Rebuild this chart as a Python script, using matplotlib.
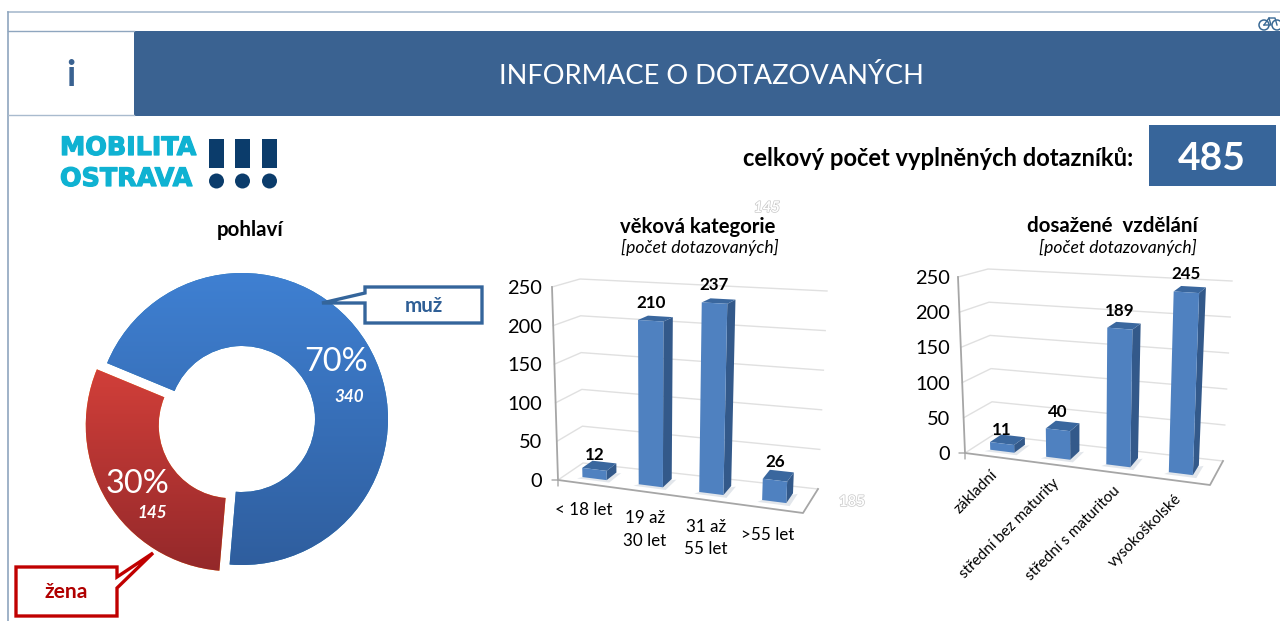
import matplotlib
matplotlib.use("Agg")
import matplotlib.pyplot as plt
import numpy as np
from matplotlib.colors import LinearSegmentedColormap
from matplotlib.patches import Polygon, Rectangle, Circle
import matplotlib.patheffects as pe

plt.rcParams['font.family'] = ['Lato', 'DejaVu Sans']

# ---------- data ----------
gender_labels = ['muž', 'žena']
gender_counts = [340, 145]
total_responses = 485

age_labels = ['< 18 let', '19 až\n30 let', '31 až\n55 let', '>55 let']
age_counts = [12, 210, 237, 26]

edu_labels = ['základní', 'střední bez maturity', 'střední s maturitou', 'vysokoškolské']
edu_counts = [11, 40, 189, 245]

y_ticks = [0, 50, 100, 150, 200, 250]

W, H = 1280, 621
PT = 0.72
fig = plt.figure(figsize=(W / 100, H / 100), dpi=100, facecolor='white')

bg = fig.add_axes([0, 0, 1, 1])
bg.set_xlim(0, W)
bg.set_ylim(H, 0)
bg.axis('off')

NAVY = '#3A6291'
# page frame and header
bg.plot([8, 1280], [12, 12], color='#A9BBCE', lw=1.2)
bg.plot([8, 8], [12, 621], color='#8FA6BF', lw=1.2)
bg.add_patch(Rectangle((134, 31), 1146, 85, fc=NAVY, ec='none'))
bg.plot([8, 134], [31, 31], color='#8FA6BF', lw=1)
bg.plot([8, 134], [115, 115], color='#A9BBCE', lw=1)
bg.text(711, 76, 'INFORMACE O DOTAZOVANÝCH', color='white', fontsize=27.3 * PT, ha='center', va='center')
bg.text(71, 76, 'i', color=NAVY, fontsize=36 * PT, fontweight='bold', ha='center', va='center')

# logo
TEAL = '#0FB2D2'
DARK = '#0B3C6B'
heavy = [pe.withStroke(linewidth=0.9, foreground=TEAL)]
bg.text(60, 148, 'MOBILITA', color=TEAL, fontsize=25.4 * PT, fontweight='bold', family=['DejaVu Sans'],
        va='center', path_effects=heavy)
bg.text(60, 179, 'OSTRAVA', color=TEAL, fontsize=25.4 * PT, fontweight='bold', family=['DejaVu Sans'],
        va='center', path_effects=heavy)
for x in (209, 235, 262):
    bg.add_patch(Rectangle((x, 139), 15, 29, fc=DARK, ec='none'))
    bg.add_patch(Circle((x + 7.5, 181), 7.5, fc=DARK, ec='none'))

# bicycle glyph
bike = '#3A6A95'
for cx_b in (1264, 1277):
    bg.add_patch(Circle((cx_b, 25), 5, fc='none', ec=bike, lw=1.1))
bg.plot([1264, 1269, 1275, 1277], [25, 18, 18, 25], color=bike, lw=1.0)
bg.plot([1269, 1271, 1264], [18, 25, 25], color=bike, lw=1.0)

# total
bg.text(1133, 159, 'celkový počet vyplněných dotazníků:', color='black', fontsize=23.7 * PT,
        fontweight='bold', ha='right', va='center')
bg.add_patch(Rectangle((1149, 125), 127, 61, fc='#37659A', ec='none'))
bg.text(1212, 158, str(total_responses), color='white', fontsize=39 * PT, fontweight='bold', ha='center', va='center')

# ghost artefacts
for (x, y, s) in [(767, 208, '145'), (852, 502, '185')]:
    bg.text(x, y, s, color='white', fontsize=15 * PT, fontweight='bold', ha='center', va='center',
            style='italic' if y < 300 else 'normal',
            path_effects=[pe.withStroke(linewidth=1.0, foreground='#C8C8C8')])

# ---------- donut ----------
bg.text(250, 230, 'pohlaví', color='black', fontsize=20.5 * PT, fontweight='bold', ha='center', va='center')

R = 146.0
half = 185.0
cx, cy = 242.0, 419.0
pax = fig.add_axes([(cx - half) / W, (H - cy - half) / H, 2 * half / W, 2 * half / H])
wedges, _ = pax.pie(gender_counts, startangle=157.5, counterclock=False, explode=[0, 0.082],
                    radius=1, wedgeprops=dict(width=0.5, linewidth=0))
cmaps = [LinearSegmentedColormap.from_list('b', ['#3F80D2', '#2F5E9E']),
         LinearSegmentedColormap.from_list('r', ['#D4403A', '#93282A'])]
ranges = [(1.0, -1.0), (0.4, -1.06)]
grad = np.linspace(0, 1, 256).reshape(-1, 1)
for w, cm, (top, bot) in zip(wedges, cmaps, ranges):
    im = pax.imshow(grad, cmap=cm, extent=[-1.3, 1.3, bot, top], aspect='auto', zorder=2)
    im.set_clip_path(w)
pax.set_xlim(-half / R, half / R)
pax.set_ylim(-half / R, half / R)
pax.axis('off')
pax.patch.set_alpha(0)

top_layer = fig.add_axes([0, 0, 1, 1], facecolor='none')
top_layer.set_xlim(0, W)
top_layer.set_ylim(H, 0)
top_layer.axis('off')
label_pos = [((336, 362), (349, 397)), ((138, 484), (152, 513))]
for n, (p_pct, p_n) in zip(gender_counts, label_pos):
    top_layer.text(*p_pct, f'{round(100 * n / total_responses)}%', color='white', fontsize=32.5 * PT, ha='center', va='center')
    top_layer.text(*p_n, str(n), color='white', fontsize=17 * PT, fontweight='bold', style='italic', ha='center', va='center')

# callouts
muz = [(365, 287), (482, 287), (482, 323), (365, 323), (365, 303), (322, 303), (365, 293)]
zena = [(16, 567), (117, 567), (117, 577), (153, 553), (117, 588), (117, 616), (16, 616)]
top_layer.add_patch(Polygon(muz, closed=True, fc='white', ec='#34659B', lw=2.4, joinstyle='miter'))
top_layer.add_patch(Polygon(zena, closed=True, fc='white', ec='#C00000', lw=2.4, joinstyle='miter'))
top_layer.text(424, 306, gender_labels[0], color='#2F5F96', fontsize=20.5 * PT, fontweight='bold', ha='center', va='center')
top_layer.text(66, 592, gender_labels[1], color='#B00000', fontsize=21 * PT, fontweight='bold', ha='center', va='center')


# ---------- pseudo-3D column charts ----------
def column_chart(values, FL, BL, BR, FR, ylab_pad):
    """Corners are (level 0, level 250) pixel pairs of the plot box."""
    ox, oy = FL[0]
    box_w = FR[0][0] - ox
    box_h = oy - FL[1][1]
    ax = fig.add_axes([ox / W, (H - oy) / H, box_w / W, box_h / H], facecolor='none')
    n = len(values)
    ax.set_xlim(-0.5, n - 0.5)
    ax.set_ylim(0, 250)
    for s in ax.spines.values():
        s.set_visible(False)
    ax.set_xticks([])
    ax.set_yticks(y_ticks)
    ax.tick_params(axis='y', length=0, pad=ylab_pad * PT, labelsize=20 * PT, labelcolor='black')

    def project(cat, v, d):
        f = (cat + 0.5) / n
        t = v / 250.0
        def corner(c):
            return np.array(c[0]) * (1 - t) + np.array(c[1]) * t
        front = corner(FL) * (1 - f) + corner(FR) * f
        back = corner(BL) * (1 - f) + corner(BR) * f
        px = front * (1 - d) + back * d
        return ((px[0] - ox) / box_w * n - 0.5, (oy - px[1]) / box_h * 250)

    grid = '#E0E0E0'
    axis = '#A6A6A6'
    left, right = -0.5, n - 0.5
    for v in y_ticks:
        pts = [project(left, v, 0), project(left, v, 1), project(right, v, 1)]
        ax.plot(*zip(*pts), color=grid, lw=1.0, zorder=1, clip_on=False)
        a = project(left, v, 0)
        ax.annotate('', xy=a, xytext=(-6 * PT, 0), textcoords='offset points',
                    arrowprops=dict(arrowstyle='-', color=axis, lw=1.0, shrinkA=0, shrinkB=0))
    ax.plot(*zip(project(left, 0, 0), project(left, 250, 0)), color=axis, lw=1.3, zorder=2, clip_on=False)
    ax.plot(*zip(project(left, 0, 0), project(right, 0, 0), project(right, 0, 1)), color=axis, lw=1.3, zorder=2, clip_on=False)
    for b in np.arange(n + 1) - 0.5:
        ax.annotate('', xy=project(b, 0, 0), xytext=(0, -6 * PT), textcoords='offset points',
                    arrowprops=dict(arrowstyle='-', color=axis, lw=1.0, shrinkA=0, shrinkB=0))

    shifts = [-0.02, -0.09, -0.09, -0.05]
    gaps = [14, 18, 18, 18]
    hw, d0, d1 = 0.2, 0.3, 0.72
    for i, v in enumerate(values):
        c = i + shifts[i]
        l, r = c - hw, c + hw
        ax.add_patch(Polygon([project(l - 0.05, 0, d0 - 0.1), project(r + 0.08, 0, d0 - 0.1),
                              project(r + 0.08, 0, d1), project(l, 0, d0)],
                             fc='#7F8FA6', ec='none', alpha=0.22, zorder=3, clip_on=False))
        ax.add_patch(Polygon([project(r, 0, d0), project(r, 0, d1), project(r, v, d1), project(r, v, d0)],
                             fc='#33598A', ec='none', zorder=4, clip_on=False))
        ax.add_patch(Polygon([project(l, v, d0), project(r, v, d0), project(r, v, d1), project(l, v, d1)],
                             fc='#3A679E', ec='none', zorder=4, clip_on=False))
        ax.add_patch(Polygon([project(l, 0, d0), project(r, 0, d0), project(r, v, d0), project(l, v, d0)],
                             fc='#4F81C0', ec='none', zorder=5, clip_on=False))
        ax.annotate(str(v), xy=project(c, v, d0), xytext=(0, gaps[i] * PT), textcoords='offset points',
                    ha='center', va='center', fontsize=17 * PT, fontweight='bold', color='black',
                    annotation_clip=False, zorder=6)
    return ax, project


ax1, p1 = column_chart(age_counts,
                       FL=[(558, 480), (552, 287)], BL=[(583, 463), (580, 279)],
                       BR=[(818, 489), (827, 291)], FR=[(803, 513), (812, 301)], ylab_pad=16)
for i, lab in enumerate(age_labels):
    ax1.annotate(lab, xy=p1(i, 0, 0), xytext=(-5 * PT, -18 * PT), textcoords='offset points',
                 ha='center', va='top', fontsize=17 * PT, linespacing=1.5, annotation_clip=False)

ax2, p2 = column_chart(edu_counts,
                       FL=[(965, 453), (958, 277)], BL=[(993, 435), (988, 269)],
                       BR=[(1223, 461), (1232, 281)], FR=[(1210, 485), (1217, 295)], ylab_pad=15)
for i, lab in enumerate(edu_labels):
    ax2.annotate(lab, xy=p2(i, 0, 0), xytext=(0, -16 * PT), textcoords='offset points',
                 ha='right', va='center', rotation=45, rotation_mode='anchor',
                 fontsize=15.3 * PT, annotation_clip=False)

# chart titles
bg.text(698, 227, 'věková kategorie', fontsize=20.3 * PT, fontweight='bold', ha='center', va='center')
bg.text(700, 247, '[počet dotazovaných]', fontsize=17.5 * PT, style='italic', ha='center', va='center')
bg.text(1112, 226, 'dosažené  vzdělání', fontsize=20.5 * PT, fontweight='bold', ha='center', va='center')
bg.text(1118, 247, '[počet dotazovaných]', fontsize=17.5 * PT, style='italic', ha='center', va='center')

fig.savefig('out.png', dpi=100, facecolor='white')
